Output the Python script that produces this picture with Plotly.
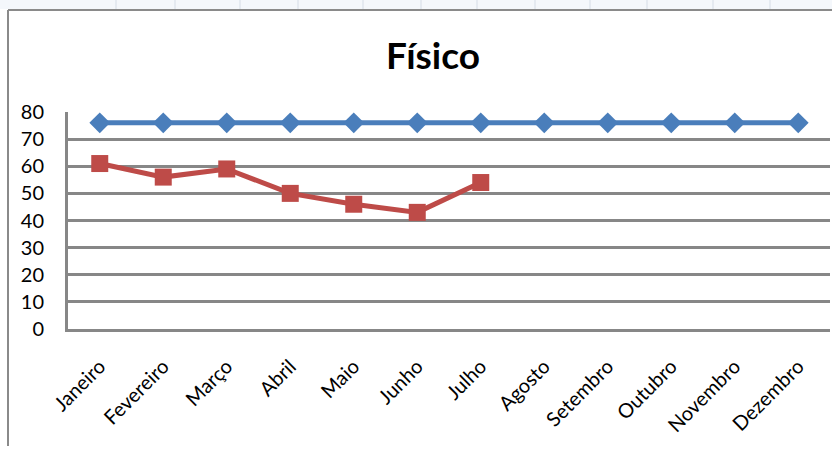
import plotly.graph_objects as go

months = ["Janeiro", "Fevereiro", "Março", "Abril", "Maio", "Junho",
          "Julho", "Agosto", "Setembro", "Outubro", "Novembro", "Dezembro"]
meta = [76, 76, 76, 76, 76, 76, 76, 76, 76, 76, 76, 76]
realizado = [61, 56, 59, 50, 46, 43, 54]
y_ticks = [0, 10, 20, 30, 40, 50, 60, 70, 80]
title_text = "Físico"

W, H = 832, 454
L, R, T, B = 68, 830, 112, 329  # plot area pixels
pw, ph = R - L, B - T

def px(x):
    return (x - L) / pw

def py(y):
    return (B - y) / ph

fig = go.Figure()
fig.add_trace(go.Scatter(
    x=months, y=meta, mode="lines+markers", name="Meta",
    line=dict(color="#4a7ebb", width=5),
    marker=dict(symbol="diamond", size=16, color="#4a7ebb"),
))
fig.add_trace(go.Scatter(
    x=months[:len(realizado)], y=realizado, mode="lines+markers", name="Realizado",
    line=dict(color="#be4b48", width=5),
    marker=dict(symbol="square", size=17, color="#be4b48"),
))

shapes = []
# spreadsheet strip above chart
shapes.append(dict(type="rect", xref="paper", yref="paper",
                   x0=px(0), x1=px(W), y0=py(9), y1=py(0),
                   fillcolor="#f4f7fb", line=dict(width=0), layer="below"))
for sx in [116, 175, 240, 298, 363, 421, 477, 535, 590, 647, 713, 770]:
    shapes.append(dict(type="line", xref="paper", yref="paper",
                       x0=px(sx), x1=px(sx), y0=py(9), y1=py(0),
                       line=dict(color="#d5dce6", width=1)))
# chart frame
shapes.append(dict(type="line", xref="paper", yref="paper",
                   x0=px(8), x1=px(W), y0=py(10), y1=py(10),
                   line=dict(color="#8a8a8a", width=2)))
shapes.append(dict(type="line", xref="paper", yref="paper",
                   x0=px(8), x1=px(8), y0=py(10), y1=py(446),
                   line=dict(color="#8a8a8a", width=2)))

fig.update_layout(
    width=W, height=H,
    margin=dict(l=L, r=W - R, t=T, b=H - B, autoexpand=False),
    paper_bgcolor="white", plot_bgcolor="white",
    showlegend=False,
    title=dict(text="<b>" + title_text + "</b>", x=433 / W, xanchor="center",
               y=1 - 56 / H, yanchor="middle",
               font=dict(family="Lato", size=37, color="black")),
    font=dict(family="Lato", color="black"),
    shapes=shapes,
)
fig.update_xaxes(
    type="category", categoryorder="array", categoryarray=months,
    range=[-0.5, 11.5], showgrid=False, zeroline=False,
    showline=True, linecolor="#878787", linewidth=3,
    tickangle=-45, tickfont=dict(size=20, family="Lato"),
    ticks="", ticklabelstandoff=15,
)
fig.update_yaxes(
    range=[0, 80], tickvals=y_ticks, showgrid=True,
    gridcolor="#878787", gridwidth=3, zeroline=False,
    showline=True, linecolor="#878787", linewidth=3,
    tickfont=dict(size=20, family="Lato"), ticks="", ticklabelstandoff=17,
)
fig.write_html("out.html", config={"displayModeBar": False},
               post_script="document.body.style.margin='0px';")
